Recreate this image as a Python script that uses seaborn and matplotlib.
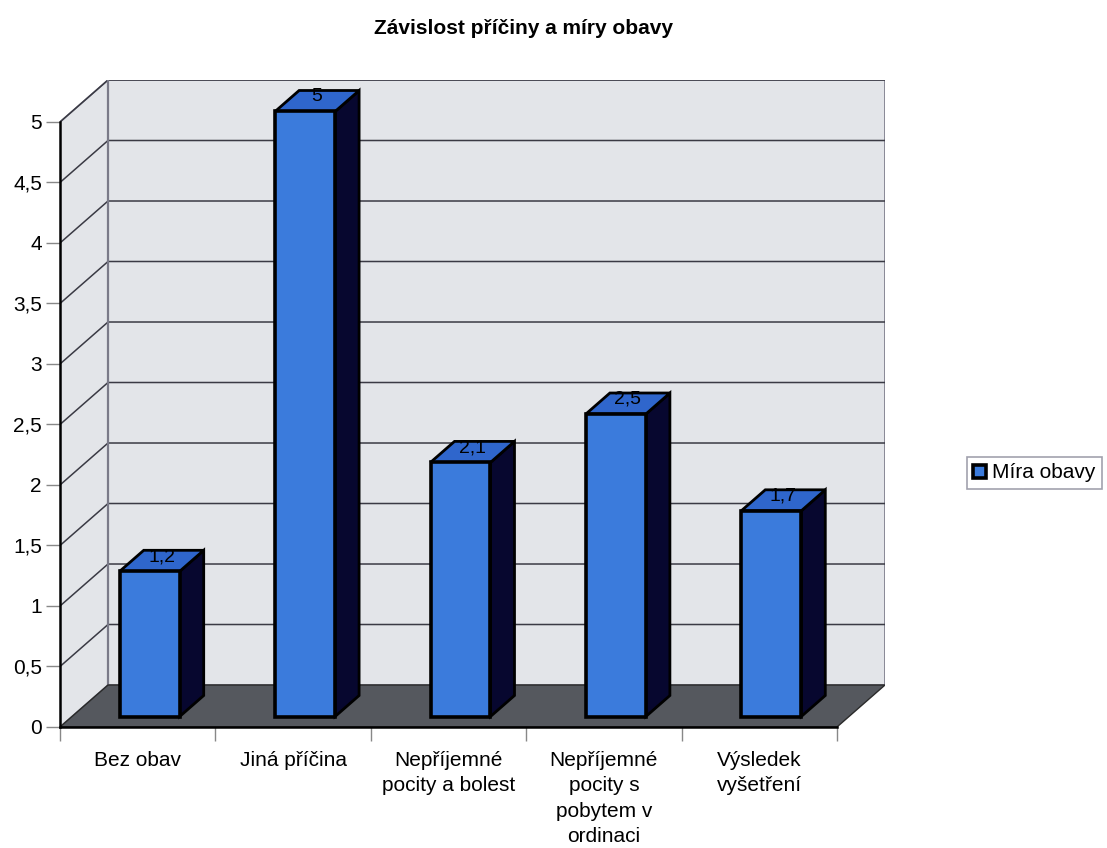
import matplotlib
matplotlib.use("Agg")
import matplotlib.pyplot as plt
from matplotlib.patches import Polygon
import seaborn as sns
import pandas as pd

# Data
categories = ["Bez obav", "Jiná příčina", "Nepříjemné pocity a bolest",
              "Nepříjemné pocity s pobytem v ordinaci", "Výsledek vyšetření"]
tick_labels = ["Bez obav", "Jiná příčina", "Nepříjemné\npocity a bolest",
               "Nepříjemné\npocity s\npobytem v\nordinaci", "Výsledek\nvyšetření"]
values = [1.2, 5.0, 2.1, 2.5, 1.7]
value_labels = ["1,2", "5", "2,1", "2,5", "1,7"]
y_ticks = [0, 0.5, 1, 1.5, 2, 2.5, 3, 3.5, 4, 4.5, 5]
y_tick_labels = ["0", "0,5", "1", "1,5", "2", "2,5", "3", "3,5", "4", "4,5", "5"]
series_name = "Míra obavy"
title = "Závislost příčiny a míry obavy"

sns.set_theme(style="white")
plt.rcParams["font.family"] = ["Liberation Sans", "DejaVu Sans"]
plt.rcParams["text.color"] = "black"
plt.rcParams["xtick.labelcolor"] = "black"
plt.rcParams["ytick.labelcolor"] = "black"

FRONT = "#3b7bdc"
TOP = "#2f66cc"
SIDE = "#07072f"
WALL = "#e3e5e9"
FLOOR = "#55585e"
GRID = "#3a3a44"
WALL_EDGE = "#7a7a88"
FS = 15

W, H = 1107, 848
fig = plt.figure(figsize=(W / 100, H / 100), dpi=100)
fig.patch.set_facecolor("white")

# plot area in pixels: left 60, right 885, bottom 727, top 80
ax = fig.add_axes([60 / W, (H - 727) / H, 825 / W, 647 / H])

# depth offset of the 3D box (data units)
DX, DY = 0.309, 0.347
XL, XR = -0.5, 4.5
YMAX = 5.0

df = pd.DataFrame({"kategorie": categories, "hodnota": values})

# bars (front faces)
sns.barplot(data=df, x="kategorie", y="hodnota", ax=ax, width=0.386, color=FRONT,
            saturation=1, edgecolor="black", linewidth=2.6, zorder=4)
bars = list(ax.containers[0])

# walls and floor
ax.add_patch(Polygon([(XL, 0), (XL, YMAX), (XL + DX, YMAX + DY), (XL + DX, DY)],
                     closed=True, facecolor=WALL, edgecolor=WALL_EDGE, lw=1.2, zorder=0))
ax.add_patch(Polygon([(XL + DX, DY), (XR + DX, DY), (XR + DX, YMAX + DY), (XL + DX, YMAX + DY)],
                     closed=True, facecolor=WALL, edgecolor=WALL_EDGE, lw=1.2, zorder=0))
for v in y_ticks[1:]:
    ax.plot([XL, XL + DX, XR + DX], [v, v + DY, v + DY], color=GRID, lw=1.1, zorder=1)
ax.plot([XL + DX, XL + DX], [DY, YMAX + DY], color=WALL_EDGE, lw=1.6, zorder=1)
ax.add_patch(Polygon([(XL, 0), (XR, 0), (XR + DX, DY), (XL + DX, DY)],
                     closed=True, facecolor=FLOOR, edgecolor="#2a2a2a", lw=1.0, zorder=2))

f0, f1 = 0.25, 0.75  # bar depth span as fraction of box depth
for p, lab in zip(bars, value_labels):
    x0 = p.get_x()
    w = p.get_width()
    h = p.get_height()
    p.set_x(x0 + f0 * DX)
    p.set_y(f0 * DY)
    x1 = x0 + w
    side = [(x1 + f0 * DX, f0 * DY), (x1 + f0 * DX, h + f0 * DY),
            (x1 + f1 * DX, h + f1 * DY), (x1 + f1 * DX, f1 * DY)]
    top = [(x0 + f0 * DX, h + f0 * DY), (x1 + f0 * DX, h + f0 * DY),
           (x1 + f1 * DX, h + f1 * DY), (x0 + f1 * DX, h + f1 * DY)]
    ax.add_patch(Polygon(side, closed=True, facecolor=SIDE, edgecolor="black", lw=2.0, zorder=3))
    ax.add_patch(Polygon(top, closed=True, facecolor=TOP, edgecolor="black", lw=2.0, zorder=3))
    ax.text(x0 + w / 2 + 0.5 * DX, h + 0.6 * DY, lab, ha="center", va="center",
            fontsize=14, color="black", zorder=6)

# axes
ax.set_xlim(XL, XR + DX)
ax.set_ylim(0, YMAX + DY)
for s in ["top", "right"]:
    ax.spines[s].set_visible(False)
ax.spines["left"].set_bounds(0, YMAX)
ax.spines["bottom"].set_bounds(XL, XR)
for s in ["left", "bottom"]:
    ax.spines[s].set_color("black")
    ax.spines[s].set_linewidth(1.8)
    ax.spines[s].set_zorder(5)

ax.set_yticks(y_ticks, y_tick_labels)
ax.tick_params(axis="y", which="major", direction="out", length=10, width=1,
               color="#888888", labelsize=FS, pad=3, left=True)
ax.set_xticks(range(len(categories)), tick_labels)
ax.set_xticks([XL + i for i in range(len(categories) + 1)], minor=True)
ax.tick_params(axis="x", which="major", length=0, labelsize=FS, pad=17)
ax.tick_params(axis="x", which="minor", direction="out", length=10, width=1,
               color="#888888", bottom=True)
for t in ax.get_xticklabels():
    t.set_linespacing(1.43)
ax.set_xlabel("")
ax.set_ylabel("")
ax.grid(False)
ax.set_facecolor("white")

# legend
leg = fig.legend(handles=[bars[0]], labels=[series_name], loc="center left",
                 bbox_to_anchor=(967 / W, 1 - 473 / H), fontsize=FS, frameon=True,
                 fancybox=False, edgecolor="#8a8a99", handlelength=0.6, handleheight=0.6,
                 handletextpad=0.3, borderpad=0.3, borderaxespad=0)
leg.get_frame().set_linewidth(1.2)

fig.text(524 / W, 1 - 28 / H, title, ha="center", va="center", fontsize=15,
         fontweight="bold")

fig.savefig("out.png", dpi=100)
